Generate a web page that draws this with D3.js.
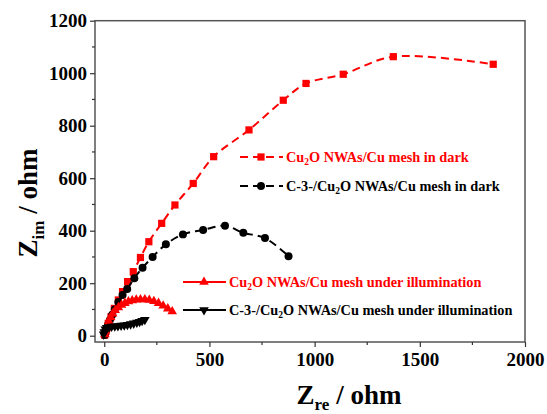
<!DOCTYPE html>
<html>
<head>
<meta charset="utf-8">
<script src="https://d3js.org/d3.v7.min.js"></script>
<style>
  body { margin: 0; background: #fff; }
  svg text { font-family: "Liberation Serif", "Times New Roman", serif; font-weight: bold; }
</style>
</head>
<body>
<div id="chart"></div>
<script>
"use strict";

// Zre / Zim pairs (ohm)
var darkCu2O = [[2,2],[5,10],[10,25],[19,47],[32,72],[48,104],[67,136],[87,168],[111,206],[138,244],
  [172,298],[212,358],[273,428],[336,498],[423,580],[520,682],[688,784],[851,897],[959,961],
  [1136,996],[1374,1063],[1849,1034]];
var darkC3 = [[2,3],[5,12],[10,25],[18,42],[27,60],[38,80],[50,100],[67,128],[87,155],[109,178],
  [143,219],[182,259],[230,300],[293,348],[374,386],[470,403],[574,419],[661,392],[764,372],[876,303]];
var lightCu2O = [[3,5],[6,15],[10,28],[15,40],[22,55],[30,70],[40,84],[52,97],[67,108],[82,117],
  [98,124],[115,130],[133,134],[152,137],[172,138],[193,138],[214,136],[236,131],[258,124],
  [280,114],[302,103],[323,92]];
var lightC3 = [[-3,5],[0,14],[5,24],[12,30],[22,33],[35,35],[50,36],[65,37],[80,39],[95,40],
  [110,42],[125,44],[140,47],[155,50],[168,53],[180,57],[193,61]];

var xTicks = [0, 500, 1000, 1500, 2000];
var yTicks = [0, 200, 400, 600, 800, 1000, 1200];

var W = 547, H = 414;
var FONT = "Liberation Serif, Times New Roman, serif";
var svg = d3.select("#chart").append("svg").attr("width", W).attr("height", H);

var x = d3.scaleLinear().domain([-44, 2000]).range([95, 525]);
var y = d3.scaleLinear().domain([-24, 1200]).range([342, 20.7]);

// frame
svg.append("rect")
  .attr("x", x.range()[0]).attr("y", y.range()[1])
  .attr("width", x.range()[1] - x.range()[0]).attr("height", y.range()[0] - y.range()[1])
  .attr("fill", "none").attr("stroke", "#555").attr("stroke-width", 1.5);

// minor ticks
var xMinor = d3.range(250, 2000, 500);
var yMinor = d3.range(100, 1200, 200);
svg.append("g").selectAll("line").data(xMinor).enter().append("line")
  .attr("x1", d => x(d)).attr("x2", d => x(d))
  .attr("y1", y.range()[0]).attr("y2", y.range()[0] + 3)
  .attr("stroke", "#333").attr("stroke-width", 1.2);
svg.append("g").selectAll("line").data(yMinor).enter().append("line")
  .attr("y1", d => y(d)).attr("y2", d => y(d))
  .attr("x1", x.range()[0]).attr("x2", x.range()[0] - 3)
  .attr("stroke", "#333").attr("stroke-width", 1.2);

var xAxis = svg.append("g")
  .attr("transform", "translate(0," + y.range()[0] + ")")
  .call(d3.axisBottom(x).tickValues(xTicks).tickFormat(d3.format("d")).tickSize(5).tickPadding(6));
var yAxis = svg.append("g")
  .attr("transform", "translate(" + x.range()[0] + ",0)")
  .call(d3.axisLeft(y).tickValues(yTicks).tickFormat(d3.format("d")).tickSize(5).tickPadding(3));
[xAxis, yAxis].forEach(function (a) {
  a.attr("font-family", FONT).attr("font-size", 19).attr("font-weight", "bold");
  a.select(".domain").remove();
  a.selectAll("line").attr("stroke", "#333").attr("stroke-width", 1.2);
  a.selectAll("text").attr("fill", "#000");
});

// axis titles
var xt = svg.append("text").attr("x", 349).attr("y", 404).attr("text-anchor", "middle")
  .attr("font-family", FONT).attr("font-size", 27);
xt.append("tspan").text("Z");
xt.append("tspan").attr("font-size", 17).attr("dy", 6).text("re");
xt.append("tspan").attr("dy", -6).text(" / ohm");

var yt = svg.append("text").attr("transform", "translate(37,203) rotate(-90)")
  .attr("text-anchor", "middle").attr("font-family", FONT).attr("font-size", 27);
yt.append("tspan").text("Z");
yt.append("tspan").attr("font-size", 17).attr("dy", 7).text("im");
yt.append("tspan").attr("dy", -7).text(" / ohm");

var line = d3.line().x(d => x(d[0])).y(d => y(d[1])).curve(d3.curveCatmullRom);

var series = [
  { data: darkCu2O, color: "#ff0000", dash: "8,5", shape: d3.symbolSquare, size: 52, rot: 0 },
  { data: darkC3, color: "#000000", dash: "8,5", shape: d3.symbolCircle, size: 50, rot: 0 },
  { data: lightCu2O, color: "#ff0000", dash: null, shape: d3.symbolTriangle, size: 40, rot: 0 },
  { data: lightC3, color: "#000000", dash: null, shape: d3.symbolTriangle, size: 40, rot: 180 }
];

series.forEach(function (s) {
  svg.append("path").datum(s.data).attr("d", line)
    .attr("fill", "none").attr("stroke", s.color).attr("stroke-width", 2)
    .attr("stroke-dasharray", s.dash);
  svg.append("g").selectAll("path").data(s.data).enter().append("path")
    .attr("d", d3.symbol().type(s.shape).size(s.size))
    .attr("transform", d => "translate(" + x(d[0]) + "," + y(d[1]) + ") rotate(" + s.rot + ")")
    .attr("fill", s.color);
});

// legend
var legend = [
  { s: series[0], x0: 240, y0: 157, pre: "Cu", post: "O NWAs/Cu mesh in dark" },
  { s: series[1], x0: 240, y0: 186, pre: "C-3-/Cu", post: "O NWAs/Cu mesh in dark" },
  { s: series[2], x0: 183, y0: 282, pre: "Cu", post: "O NWAs/Cu mesh under illumination" },
  { s: series[3], x0: 183, y0: 310, pre: "C-3-/Cu", post: "O NWAs/Cu mesh under illumination" }
];
legend.forEach(function (l) {
  svg.append("line").attr("x1", l.x0).attr("x2", l.x0 + 43)
    .attr("y1", l.y0).attr("y2", l.y0)
    .attr("stroke", l.s.color).attr("stroke-width", 2).attr("stroke-dasharray", l.s.dash);
  svg.append("path").attr("d", d3.symbol().type(l.s.shape).size(l.s.size))
    .attr("transform", "translate(" + (l.x0 + 21) + "," + l.y0 + ") rotate(" + l.s.rot + ")")
    .attr("fill", l.s.color);
  var t = svg.append("text").attr("x", l.x0 + 46).attr("y", l.y0 + 5)
    .attr("font-family", FONT).attr("font-size", 14.3).attr("fill", l.s.color);
  t.append("tspan").text(l.pre);
  t.append("tspan").attr("font-size", 9.5).attr("dy", 3).text("2");
  t.append("tspan").attr("dy", -3).text(l.post);
});
</script>
</body>
</html>
